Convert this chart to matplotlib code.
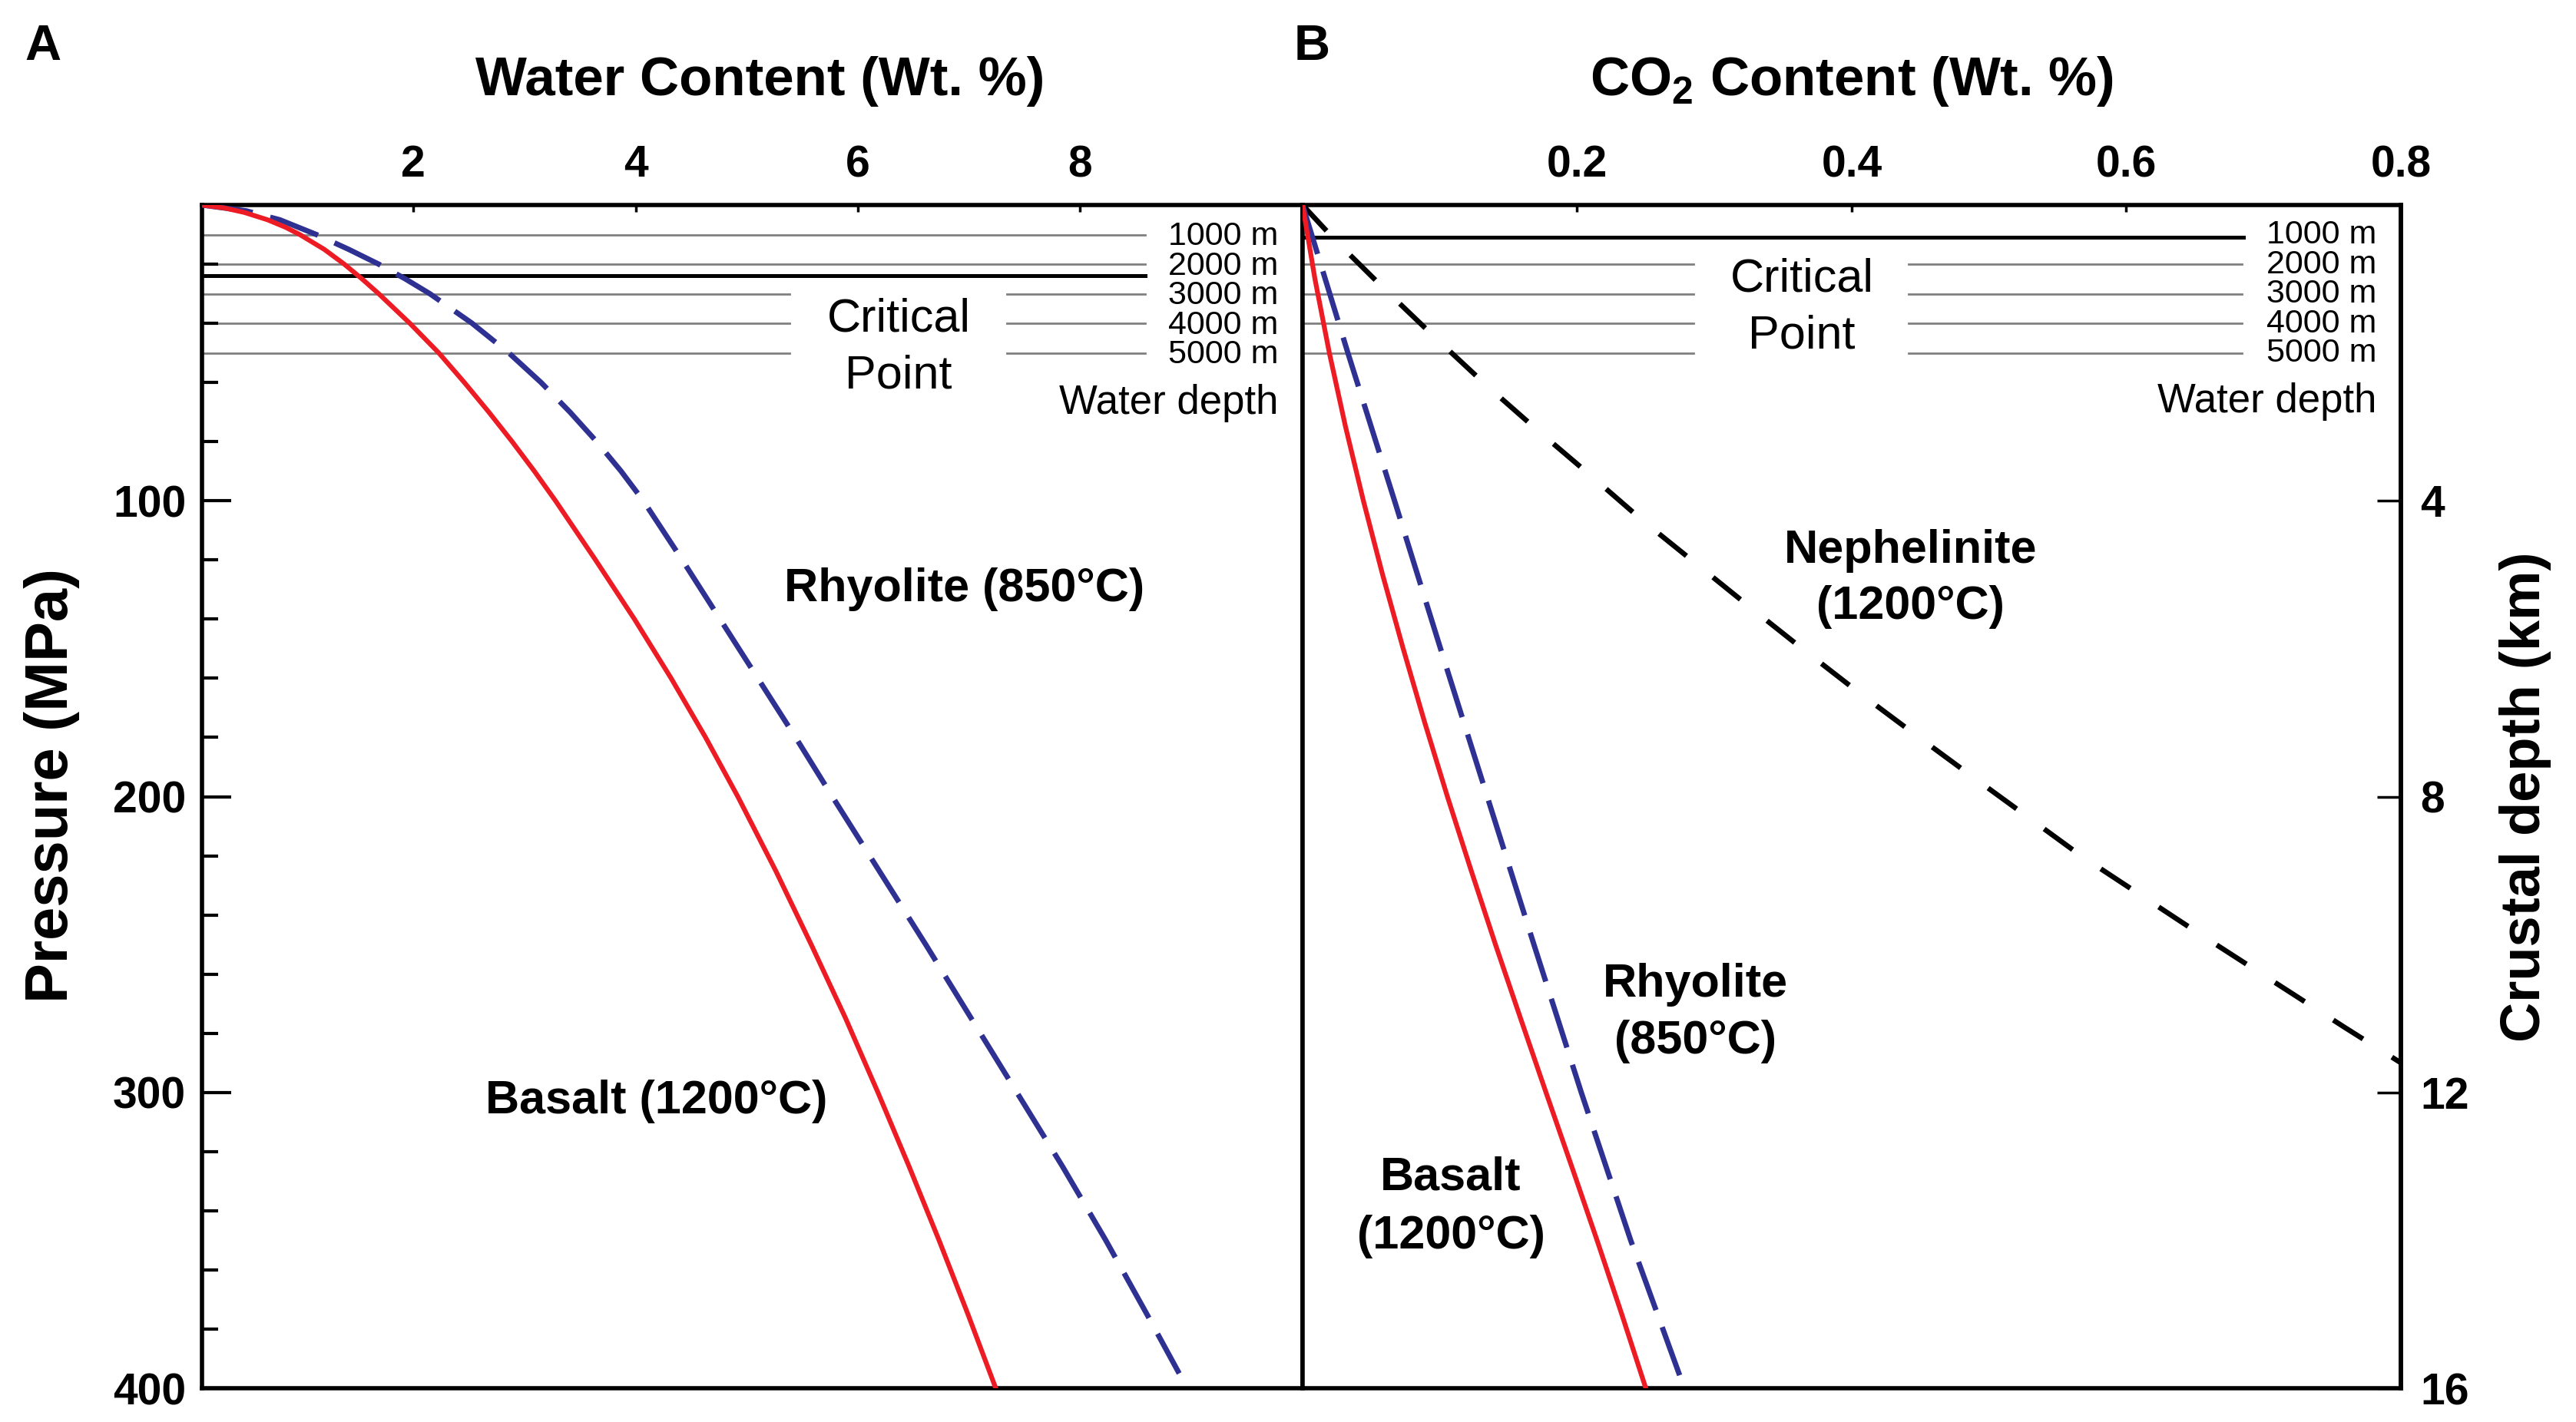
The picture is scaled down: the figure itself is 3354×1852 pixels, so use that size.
import matplotlib
matplotlib.use('Agg')
import matplotlib.pyplot as plt
import numpy as np

plt.rcParams['font.family'] = ['Liberation Sans', 'DejaVu Sans']
plt.rcParams['mathtext.fontset'] = 'custom'
plt.rcParams['mathtext.rm'] = 'Liberation Sans:bold'
plt.rcParams['mathtext.it'] = 'Liberation Sans:bold'
plt.rcParams['mathtext.bf'] = 'Liberation Sans:bold'
plt.rcParams['lines.scale_dashes'] = False

# ---- panel A: water solubility (wt %) vs pressure (MPa)
basalt_h2o_p = [0, 1, 2.5, 5, 7.5, 10, 15, 20, 25, 30, 40, 50, 60, 70, 80, 90, 100,
                120, 140, 160, 180, 200, 225, 250, 275, 300, 325, 350, 375, 400]
basalt_h2o = [0.10, 0.30, 0.48, 0.69, 0.85, 0.98, 1.20, 1.38, 1.54, 1.69, 1.97, 2.23,
              2.46, 2.68, 2.89, 3.09, 3.28, 3.64, 3.99, 4.32, 4.63, 4.92, 5.26, 5.58,
              5.89, 6.18, 6.46, 6.73, 6.99, 7.24]
rhyo_h2o_p = [0, 2, 5, 10, 15, 20, 25, 30, 40, 50, 60, 70, 80, 90, 100, 120, 140,
              160, 180, 200, 225, 250, 275, 300, 325, 350, 375, 395]
rhyo_h2o = [0.10, 0.50, 0.80, 1.13, 1.42, 1.69, 1.93, 2.15, 2.53, 2.86, 3.15, 3.41,
            3.65, 3.87, 4.07, 4.42, 4.76, 5.10, 5.44, 5.77, 6.19, 6.61, 7.02, 7.43,
            7.84, 8.23, 8.60, 8.89]

# ---- panel B: CO2 solubility (wt %) vs pressure (MPa)
basalt_co2_p = [0, 25, 50, 75, 100, 125, 150, 175, 200, 225, 250, 275, 300, 325,
                350, 375, 400]
basalt_co2 = [0.0, 0.009, 0.0195, 0.0313, 0.0443, 0.0583, 0.0733, 0.089, 0.1055,
              0.1228, 0.1405, 0.1588, 0.1773, 0.196, 0.2145, 0.2325, 0.250]
rhyo_co2_p = [0, 50, 100, 150, 200, 250, 300, 350, 398]
rhyo_co2 = [0.0, 0.033, 0.067, 0.1005, 0.1345, 0.1685, 0.203, 0.239, 0.2765]
neph_co2_p = [0, 12.5, 29, 45, 61, 76.5, 91.5, 106.8, 121, 136, 150, 164.4, 178.6,
              192.6, 220, 246, 278, 290]
neph_co2 = [0.0, 0.025, 0.061, 0.097, 0.134, 0.172, 0.210, 0.248, 0.286, 0.326, 0.364,
            0.404, 0.445, 0.486, 0.567, 0.652, 0.759, 0.800]

# water depth reference lines (1000 m ~ 10 MPa)
depth_labels = ['1000 m', '2000 m', '3000 m', '4000 m', '5000 m']
depth_mpa = [10, 20, 30, 40, 50]
crit_water = 24.0
crit_co2 = 10.8

red = '#ED1C24'
blue = '#2E3192'
gray = '#808080'

fig = plt.figure(figsize=(33.55, 18.52), dpi=100)
axA = fig.add_axes([0.07839, 0.023758, 0.42712, 0.83207])
axB = fig.add_axes([0.50551, 0.023758, 0.42623, 0.83207])

for ax in (axA, axB):
    for s in ax.spines.values():
        s.set_linewidth(4)
    ax.set_ylim(400, 0)

# ---- A
for i, d in enumerate(depth_mpa):
    if i < 2:
        axA.axhline(d, 0, 0.857, color=gray, lw=2, zorder=1)
    else:
        axA.axhline(d, 0, 0.534, color=gray, lw=2, zorder=1)
        axA.axhline(d, 0.731, 0.857, color=gray, lw=2, zorder=1)
    axA.text(0.978, d + 3.5, depth_labels[i], transform=axA.get_yaxis_transform(),
             ha='right', va='baseline', fontsize=31)
axA.axhline(crit_water, 0, 0.857, color='black', lw=3.6, zorder=1)
axA.text(0.978, 70.5, 'Water depth', transform=axA.get_yaxis_transform(),
         ha='right', va='baseline', fontsize=38)
axA.text(0.633, 42.6, 'Critical', transform=axA.get_yaxis_transform(),
         ha='center', va='baseline', fontsize=44)
axA.text(0.633, 62.0, 'Point', transform=axA.get_yaxis_transform(),
         ha='center', va='baseline', fontsize=44)

axA.plot(rhyo_h2o, rhyo_h2o_p, color=blue, lw=5, dashes=(48, 17), zorder=3)
axA.plot(basalt_h2o, basalt_h2o_p, color=red, lw=4.5, zorder=4)

axA.text(6.96, 134, 'Rhyolite (850°C)', ha='center', va='baseline', fontsize=44, fontweight='bold')
axA.text(4.19, 307, 'Basalt (1200°C)', ha='center', va='baseline', fontsize=44, fontweight='bold')

axA.set_xlim(0.1, 10)
axA.xaxis.tick_top()
axA.set_xticks([2, 4, 6, 8])
axA.set_yticks([100, 200, 300, 400])
axA.set_yticks([v for v in range(20, 400, 20) if v % 100 != 0], minor=True)
axA.tick_params(axis='x', direction='in', length=6.5, width=2.5, pad=18, labelsize=41)
axA.tick_params(axis='y', which='major', direction='in', length=27, width=3, pad=15, labelsize=41)
axA.tick_params(axis='y', which='minor', direction='in', length=15, width=3)
plt.setp(axA.get_xticklabels() + axA.get_yticklabels(), fontweight='bold')
axA.text(0.507, 1.0928, 'Water Content (Wt. %)', transform=axA.transAxes,
         ha='center', va='baseline', fontsize=51, fontweight='bold')

# ---- B
for i, d in enumerate(depth_mpa):
    if i > 0:
        axB.axhline(d, 0, 0.356, color=gray, lw=2, zorder=1)
        axB.axhline(d, 0.552, 0.855, color=gray, lw=2, zorder=1)
    axB.text(0.978, d + 3.0, depth_labels[i], transform=axB.get_yaxis_transform(),
             ha='right', va='baseline', fontsize=31)
axB.axhline(crit_co2, 0, 0.857, color='black', lw=3.6, zorder=1)
axB.text(0.978, 70.0, 'Water depth', transform=axB.get_yaxis_transform(),
         ha='right', va='baseline', fontsize=38)
axB.text(0.4545, 29.1, 'Critical', transform=axB.get_yaxis_transform(),
         ha='center', va='baseline', fontsize=44)
axB.text(0.4545, 48.4, 'Point', transform=axB.get_yaxis_transform(),
         ha='center', va='baseline', fontsize=44)

axB.plot(neph_co2, neph_co2_p, color='black', lw=4.8, dashes=(33, 32), zorder=3)
axB.plot(rhyo_co2, rhyo_co2_p, color=blue, lw=5, dashes=(48, 17), zorder=3)
axB.plot(basalt_co2, basalt_co2_p, color=red, lw=4.5, zorder=4)

axB.text(0.443, 121, 'Nephelinite', ha='center', va='baseline', fontsize=44, fontweight='bold')
axB.text(0.443, 140, '(1200°C)', ha='center', va='baseline', fontsize=44, fontweight='bold')
axB.text(0.286, 267.6, 'Rhyolite', ha='center', va='baseline', fontsize=44, fontweight='bold')
axB.text(0.286, 286.8, '(850°C)', ha='center', va='baseline', fontsize=44, fontweight='bold')
axB.text(0.108, 333, 'Basalt', ha='center', va='baseline', fontsize=44, fontweight='bold')
axB.text(0.108, 352.7, '(1200°C)', ha='center', va='baseline', fontsize=44, fontweight='bold')

axB.set_xlim(0, 0.8)
axB.xaxis.tick_top()
axB.set_xticks([0.2, 0.4, 0.6, 0.8])
axB.set_yticks([])
axB.tick_params(axis='x', direction='in', length=6.5, width=2.5, pad=18, labelsize=41)
plt.setp(axB.get_xticklabels(), fontweight='bold')
axB.text(0.5, 1.0928, r'CO$_2$ Content (Wt. %)', transform=axB.transAxes,
         ha='center', va='baseline', fontsize=51, fontweight='bold')

# crustal depth (km), 100 MPa ~ 4 km
sec = axB.secondary_yaxis('right', functions=(lambda p: p / 25.0, lambda k: k * 25.0))
sec.set_yticks([4, 8, 12, 16])
sec.spines['right'].set_linewidth(4)
sec.tick_params(direction='in', length=22, width=2.5, pad=18, labelsize=41)
plt.setp(sec.get_yticklabels(), fontweight='bold')

fig.text(68 / 3355, 0.4476, 'Pressure (MPa)', rotation=90, ha='center', va='center',
         fontsize=56, fontweight='bold')
fig.text(3288 / 3355, 0.4398, 'Crustal depth (km)', rotation=90, ha='center', va='center',
         fontsize=52, fontweight='bold')
fig.text(0.01654, 1 - 78 / 1852, 'A', ha='center', va='baseline', fontsize=47, fontweight='bold')
fig.text(0.5091, 1 - 78 / 1852, 'B', ha='center', va='baseline', fontsize=47, fontweight='bold')

plt.savefig('out.png', dpi=100)
